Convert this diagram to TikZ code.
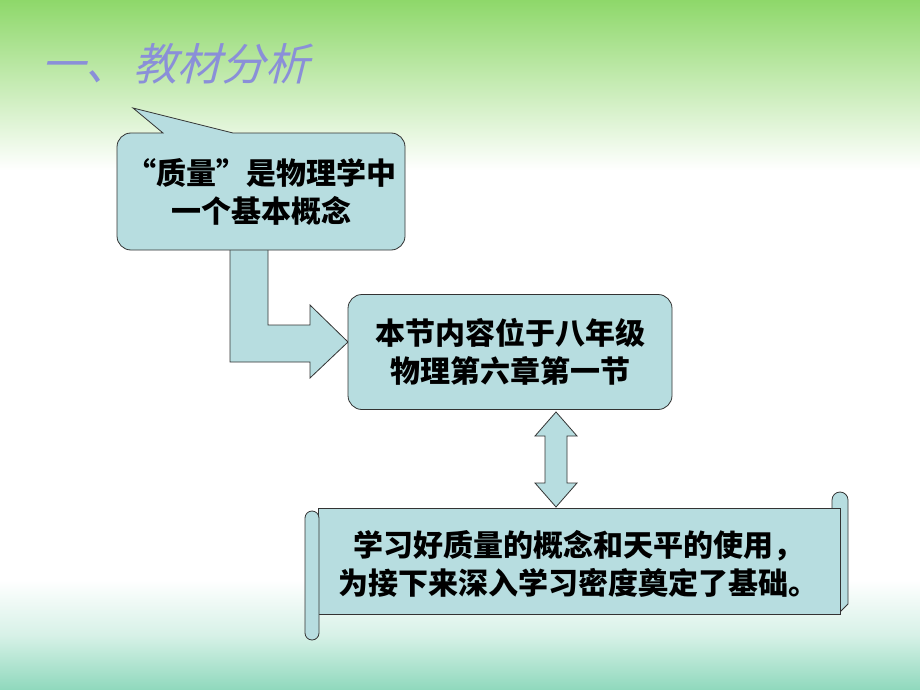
\documentclass[tikz,border=0pt]{standalone}
\usepackage{fontspec}
\newfontfamily\cjk{Noto Sans CJK SC}
\begin{document}
\begin{tikzpicture}[x=1pt,y=-1pt,
  box/.style={draw=black!80,line width=0.8pt,fill=boxc},
  txt/.style={font=\cjk\bfseries\fontsize{30}{38}\selectfont,align=center,text=black}]
\definecolor{boxc}{HTML}{B7DDE0}
\definecolor{gA}{HTML}{8ED86A}
\definecolor{gB}{HTML}{5FC8A0}
\definecolor{ttl}{HTML}{8A8FD8}
\useasboundingbox (0,0) rectangle (920,690);
\fill[white] (0,0) rectangle (920,690);
\shade[top color=gA,bottom color=white] (0,0) rectangle (920,170);
\shade[top color=white,bottom color=gB!70!white,middle color=gB!25!white] (0,580) rectangle (920,690);
% title
\node[anchor=west,text=ttl,xslant=0.25,font=\cjk\fontsize{44}{46}\selectfont] (title) at (42,64) {一、\kern0.1em 教材分析};
% bent arrow
\draw[box] (230,248) -- (268,248) -- (268,325) -- (310,325) -- (310,305) -- (348,342) -- (310,378) -- (310,362) -- (230,362) -- cycle;
% callout
\draw[box] (233,133) [rounded corners=14pt]-- (405,133) -- (405,250) -- (117,250) -- (117,133) [sharp corners]-- (163,133) -- (133,108) -- cycle;
\node[txt] (n1) at (261,192) {“质量”是物理学中\\一个基本概念};
% box 2
\node[box,rounded corners=14pt,minimum width=324pt,minimum height=115pt,txt] (n2) at (510,352) {本节内容位于八年级\\物理第六章第一节};
% double arrow
\draw[box] (545,436) -- (535,436) -- (556,412) -- (577,436) -- (567,436) -- (567,483) -- (577,483) -- (556,507) -- (535,483) -- (545,483) -- cycle;
% scroll
\draw[box] (832,508) -- (832,500) arc (180:360:8) -- (848,604) -- (840,612) -- (832,612) -- cycle;
\draw[box] (318,508) -- (840,508) -- (840,614) -- (318,614) -- cycle;
\draw[box] (305,518) arc (180:360:7) -- (319,633) arc (0:180:7) -- cycle;
\node[txt] (n3) at (578,564) {学习好质量的概念和天平的使用，\\为接下来深入学习密度奠定了基础。};
\end{tikzpicture}
\end{document}
